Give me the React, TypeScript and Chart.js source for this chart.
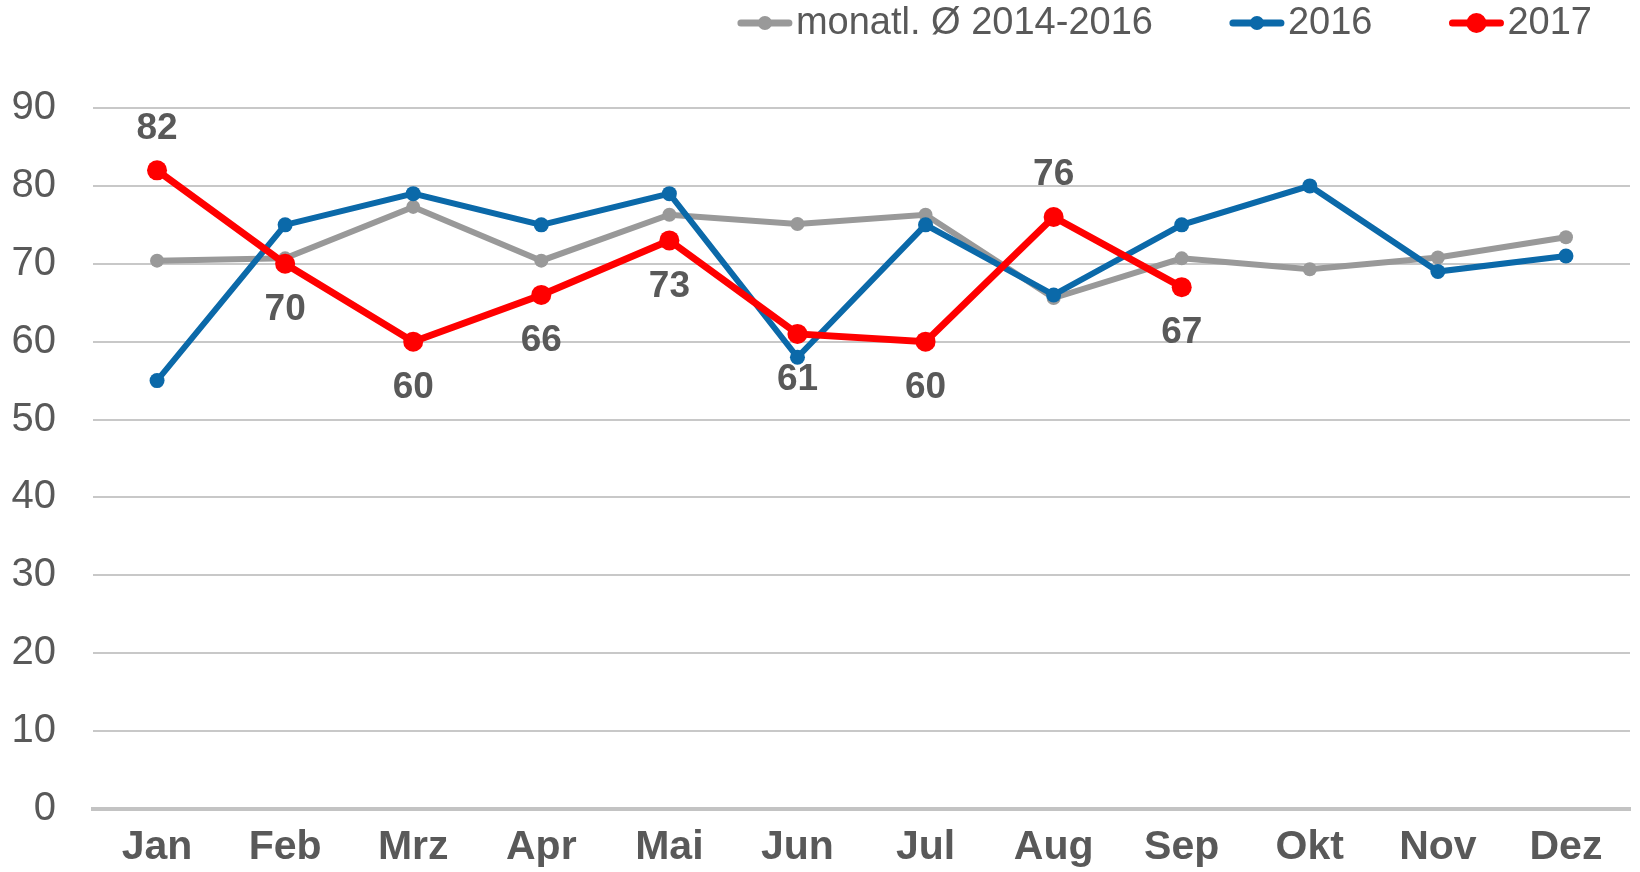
import React, { useEffect, useRef } from "react";
import { Chart, registerables } from "chart.js";

Chart.register(...registerables);

const months = ["Jan", "Feb", "Mrz", "Apr", "Mai", "Jun", "Jul", "Aug", "Sep", "Okt", "Nov", "Dez"];
const avg2014_2016 = [70.4, 70.7, 77.3, 70.4, 76.3, 75.1, 76.3, 65.6, 70.7, 69.3, 70.8, 73.4];
const values2016 = [55, 75, 79, 75, 79, 58, 75, 66, 75, 80, 69, 71];
const values2017 = [82, 70, 60, 66, 73, 61, 60, 76, 67];
const labelPos2017 = ["top", "bottom", "bottom", "bottom", "bottom", "bottom", "bottom", "top", "bottom"];
const yTicks = [0, 10, 20, 30, 40, 50, 60, 70, 80, 90];

const FONT = "'Liberation Sans', Arial, sans-serif";
const TEXT = "#595959";

const dataLabelPlugin = {
  id: "dataLabels2017",
  afterDatasetsDraw(chart: any) {
    const ctx = chart.ctx;
    const meta = chart.getDatasetMeta(2);
    ctx.save();
    ctx.font = `bold 37px ${FONT}`;
    ctx.fillStyle = TEXT;
    ctx.textAlign = "center";
    ctx.textBaseline = "middle";
    meta.data.forEach((pt: any, i: number) => {
      const v = values2017[i];
      const off = labelPos2017[i] === "top" ? -42 : 46;
      ctx.fillText(String(v), pt.x, pt.y + off);
    });
    ctx.restore();
  },
};

const legendPlugin = {
  id: "customLegend",
  afterDraw(chart: any) {
    const ctx = chart.ctx;
    const ds = chart.data.datasets;
    ctx.save();
    ctx.font = `38px ${FONT}`;
    ctx.textBaseline = "middle";
    ctx.textAlign = "left";
    const markerW = 56;
    const gap = 3;
    const itemGap = 76;
    const cy = 23;
    let right = 1592;
    const items: any[] = [];
    for (let i = ds.length - 1; i >= 0; i--) {
      const tw = ctx.measureText(ds[i].label).width;
      const textX = right - tw;
      const markerX = textX - gap - markerW;
      items.push({ i, textX, markerX });
      right = markerX - itemGap;
    }
    items.forEach(({ i, textX, markerX }) => {
      const d = ds[i];
      ctx.strokeStyle = d.borderColor;
      ctx.lineWidth = 7;
      ctx.lineCap = "round";
      ctx.beginPath();
      ctx.moveTo(markerX + 4, cy);
      ctx.lineTo(markerX + markerW - 4, cy);
      ctx.stroke();
      ctx.fillStyle = d.borderColor;
      ctx.beginPath();
      ctx.arc(markerX + markerW / 2, cy, i === 2 ? 10 : 7, 0, Math.PI * 2);
      ctx.fill();
      ctx.fillStyle = TEXT;
      ctx.fillText(d.label, textX, cy + 1);
    });
    ctx.restore();
  },
};

export default function App() {
  const ref = useRef<HTMLCanvasElement>(null);
  useEffect(() => {
    if (!ref.current) return;
    const chart = new Chart(ref.current, {
      type: "line",
      data: {
        labels: months,
        datasets: [
          {
            label: "monatl. Ø 2014-2016",
            data: avg2014_2016,
            borderColor: "#999999",
            backgroundColor: "#999999",
            borderWidth: 6,
            pointRadius: 7,
            pointBorderWidth: 0,
            pointBackgroundColor: "#999999",
            order: 2,
          },
          {
            label: "2016",
            data: values2016,
            borderColor: "#0B69A9",
            backgroundColor: "#0B69A9",
            borderWidth: 6,
            pointRadius: 7.5,
            pointBorderWidth: 0,
            pointBackgroundColor: "#0B69A9",
            order: 1,
          },
          {
            label: "2017",
            data: values2017,
            borderColor: "#FF0000",
            backgroundColor: "#FF0000",
            borderWidth: 7,
            pointRadius: 10,
            pointBorderWidth: 0,
            pointBackgroundColor: "#FF0000",
            order: 0,
          },
        ],
      },
      options: {
        animation: false,
        responsive: false,
        maintainAspectRatio: false,
        layout: { padding: { top: 108, left: 0, right: 3, bottom: 0 } },
        plugins: {
          legend: { display: false },
          tooltip: { enabled: false },
        },
        elements: { line: { tension: 0 } },
        scales: {
          x: {
            offset: true,
            grid: { display: false, drawTicks: false },
            border: { display: true, color: "#C3C3C3", width: 4 },
            ticks: {
              color: TEXT,
              font: { family: FONT, size: 41, weight: "bold" },
              padding: 14,
              maxRotation: 0,
              autoSkip: false,
            },
            afterFit: (s: any) => {
              s.height = 63;
              s.paddingLeft = 0;
              s.paddingRight = 0;
            },
          },
          y: {
            min: 0,
            max: 90,
            afterBuildTicks: (s: any) => {
              s.ticks = yTicks.map((v) => ({ value: v }));
            },
            grid: {
              color: "#C8C8C8",
              lineWidth: 2,
              drawTicks: false,
            },
            border: { display: false },
            ticks: {
              color: TEXT,
              font: { family: FONT, size: 40 },
              padding: 37,
            },
            afterFit: (s: any) => {
              s.width = 93;
              s.paddingTop = 0;
              s.paddingBottom = 0;
            },
          },
        },
      },
      plugins: [dataLabelPlugin, legendPlugin],
    });
    return () => chart.destroy();
  }, []);
  return (
    <div style={{ position: "fixed", left: 0, top: 0, width: 1640, height: 872, background: "#fff" }}>
      <canvas ref={ref} width={1640} height={872} style={{ display: "block" }} />
    </div>
  );
}
